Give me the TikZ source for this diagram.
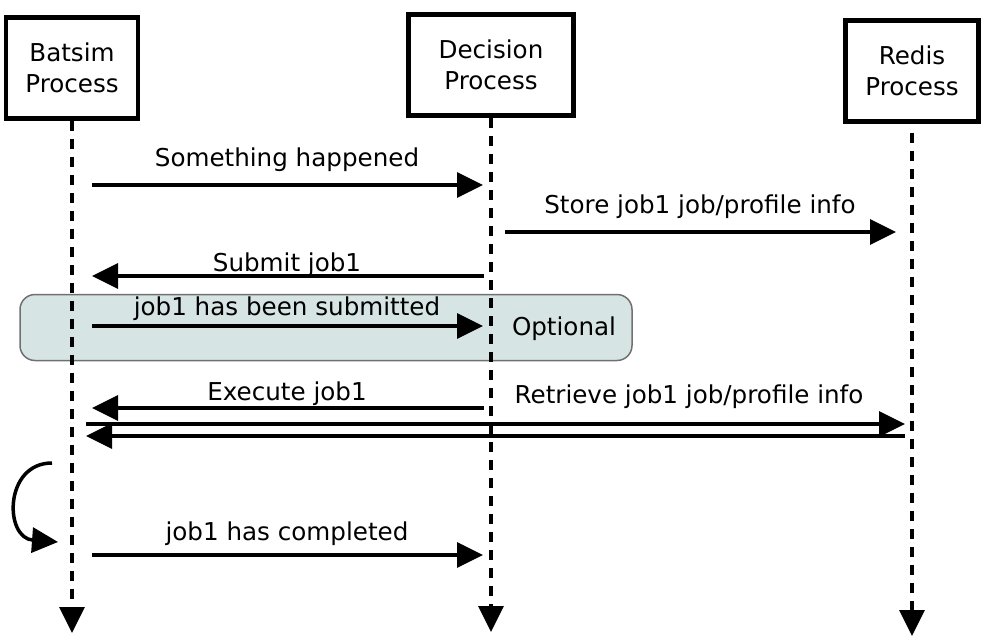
\documentclass[tikz,border=0pt]{standalone}
\usepackage{fontspec}
\setmainfont{DejaVu Sans}
\usetikzlibrary{arrows.meta}

\definecolor{optfill}{RGB}{215,228,228}
\definecolor{optline}{RGB}{112,112,112}

\begin{document}
\begin{tikzpicture}[
  x = 1pt, y = -1pt,
  every node/.style = {font = \fontsize{24.6}{31}\selectfont, inner sep = 0pt},
  proc/.style = {draw, line width = 4.5pt, minimum height = 101pt, align = center},
  life/.style = {line width = 3.5pt, dash pattern = on 10pt off 8pt,
                 -{Triangle[length = 26pt, width = 25pt]}},
  msg/.style = {line width = 3.5pt, -{Triangle[length = 26pt, width = 25pt]}},
  lbl/.style = {anchor = base}
  ]
  \useasboundingbox (0,0) rectangle (983,643);

  % processes
  \node[proc, minimum width = 132pt] (batsim) at (72,68) {Batsim\\Process};
  \node[proc, minimum width = 165pt] (decision) at (491,65) {Decision\\Process};
  \node[proc, minimum width = 133pt] (redis) at (912,71) {Redis\\Process};

  % optional block
  \node[draw = optline, fill = optfill, line width = 1.5pt, rounded corners = 15pt,
        minimum width = 612pt, minimum height = 66pt] (optbox) at (326,327.5) {};
  \node[lbl] (optlabel) at (564,335) {Optional};

  % lifelines
  \coordinate (batsim end) at (72,633);
  \coordinate (decision end) at (491,632);
  \coordinate (redis end) at (912,636);
  \draw[life] (batsim.south) -- (batsim end);
  \draw[life] (decision.south) -- (decision end);
  \draw[life] ([yshift = -9pt]redis.south) -- (redis end);

  % messages
  \coordinate (m1a) at (92,185);  \coordinate (m1b) at (483,185);
  \coordinate (m2a) at (505,232); \coordinate (m2b) at (896,232);
  \coordinate (m3a) at (484,276); \coordinate (m3b) at (92,276);
  \coordinate (m4a) at (92,326);  \coordinate (m4b) at (483,326);
  \coordinate (m5a) at (484,408); \coordinate (m5b) at (92,408);
  \coordinate (m6a) at (86,424);  \coordinate (m6b) at (905,424);
  \coordinate (m7a) at (905,436); \coordinate (m7b) at (86,436);
  \coordinate (m8a) at (92,555);  \coordinate (m8b) at (483,555);

  \draw[msg] (m1a) -- (m1b);
  \draw[msg] (m2a) -- (m2b);
  \draw[msg] (m3a) -- (m3b);
  \draw[msg] (m4a) -- (m4b);
  \draw[msg] (m5a) -- (m5b);
  \draw[msg] (m6a) -- (m6b);
  \draw[msg] (m7a) -- (m7b);
  \draw[msg] (m8a) -- (m8b);

  \node[lbl] (m1 label) at (287,166) {Something happened};
  \node[lbl] (m2 label) at (700,213) {Store job1 job/profile info};
  \node[lbl] (m3 label) at (287,271) {Submit job1};
  \node[lbl] (m4 label) at (287,315) {job1 has been submitted};
  \node[lbl] (m5 label) at (287,400) {Execute job1};
  \node[lbl] (m6 label) at (689,403) {Retrieve job1 job/profile info};
  \node[lbl] (m8 label) at (287,540) {job1 has completed};

  % execution loop
  \coordinate (loop a) at (52,463);
  \coordinate (loop b) at (58,542);
  \draw[msg] (loop a) .. controls (4,463) and (4,538) .. (loop b);
\end{tikzpicture}
\end{document}
